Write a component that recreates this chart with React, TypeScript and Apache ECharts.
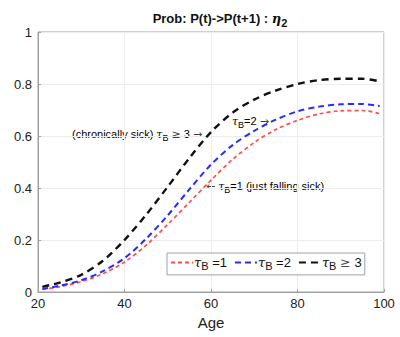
import React, { useEffect, useRef } from "react";
import * as echarts from "echarts";

const ages = [21, 25, 30, 35, 40, 45, 50, 55, 60, 65, 70, 75, 80, 85, 90, 95, 99];
const tau1 = [0.01, 0.02, 0.04, 0.07, 0.115, 0.18, 0.26, 0.345, 0.43, 0.51, 0.575, 0.625, 0.66, 0.685, 0.697, 0.698, 0.686];
const tau2 = [0.012, 0.024, 0.045, 0.08, 0.13, 0.205, 0.295, 0.395, 0.49, 0.565, 0.62, 0.663, 0.695, 0.713, 0.722, 0.723, 0.715];
const tau3 = [0.02, 0.036, 0.066, 0.12, 0.2, 0.297, 0.405, 0.515, 0.615, 0.69, 0.74, 0.775, 0.8, 0.815, 0.82, 0.82, 0.81];
const yTicks = [0, 0.2, 0.4, 0.6, 0.8, 1];

const FONT = "'Liberation Sans', Arial, Helvetica, sans-serif";

const tauRich = (size: number, color: string) => ({
  t: { fontFamily: "DejaVu Serif, serif", fontStyle: "italic", fontSize: size, color },
  s: { fontSize: size - 2, color, padding: [size * 0.6, 0, 0, 0], fontFamily: FONT },
  n: { fontSize: size, color, fontFamily: FONT },
  a: { fontSize: size, color, fontFamily: "'DejaVu Sans', sans-serif", opacity: 0.75 },
});

export default function App() {
  const ref = useRef<HTMLDivElement>(null);
  useEffect(() => {
    document.body.style.margin = "0";
    const chart = echarts.init(ref.current!, null, { renderer: "svg" });
    const mk = (arr: number[]) => ages.map((a, i) => [a, arr[i]]);
    chart.setOption({
      animation: false,
      backgroundColor: "#ffffff",
      title: {
        text: "{b|Prob: P(t)->P(t+1) : }{e|η}{s|2}",
        left: 215,
        top: 4,
        textAlign: "center",
        textStyle: {
          rich: {
            b: { fontSize: 13, fontWeight: "bold", fontFamily: FONT, color: "#111" },
            e: { fontSize: 13, fontStyle: "italic", fontFamily: "DejaVu Serif, serif", color: "#111" },
            s: { fontSize: 11, fontWeight: "bold", fontFamily: FONT, color: "#111", padding: [8, 0, 0, 0] },
          },
        },
      },
      grid: {
        left: 38,
        right: 16,
        top: 32,
        bottom: 45,
        show: true,
        borderColor: "#a0a0a0",
        borderWidth: 1,
      },
      legend: {
        left: 167,
        top: 253,
        orient: "horizontal",
        backgroundColor: "#ffffff",
        borderColor: "#a0a0a0",
        borderWidth: 1,
        borderRadius: 0,
        padding: [3, 3, 3, 3],
        itemWidth: 22,
        itemHeight: 10,
        itemGap: 7,
        data: ["t1", "t2", "t3"],
        itemStyle: { opacity: 0 },
        formatter: (name: string) => {
          if (name === "t1") return "{t|τ}{s|B}{n| =1}";
          if (name === "t2") return "{t|τ}{s|B}{n| =2}";
          return "{t|τ}{s|B}{n| }{a|≥}{n| 3}";
        },
        textStyle: { rich: tauRich(13, "#111"), padding: [0, 0, 0, -4] },
      },
      xAxis: {
        type: "value",
        min: 20,
        max: 100,
        interval: 20,
        name: "Age",
        nameLocation: "middle",
        nameGap: 22,
        nameTextStyle: { fontSize: 15, fontFamily: FONT, color: "#222" },
        axisLine: { show: true, lineStyle: { color: "#a0a0a0" } },
        axisTick: { show: true, inside: true, length: 3, lineStyle: { color: "#a0a0a0" } },
        axisLabel: { fontSize: 13, fontFamily: FONT, color: "#222", margin: 5 },
        splitLine: { show: true, lineStyle: { color: "#ececec" } },
      },
      yAxis: {
        type: "value",
        min: 0,
        max: 1,
        interval: 0.2,
        axisLine: { show: true, lineStyle: { color: "#a0a0a0" } },
        axisTick: { show: true, inside: true, length: 3, lineStyle: { color: "#a0a0a0" } },
        axisLabel: {
          fontSize: 13,
          fontFamily: FONT,
          color: "#222",
          margin: 6,
          formatter: (v: number) => (yTicks.indexOf(Math.round(v * 10) / 10) >= 0 ? String(Math.round(v * 10) / 10) : ""),
        },
        splitLine: { show: true, lineStyle: { color: "#ececec" } },
      },
      series: [
        {
          name: "t1",
          type: "line",
          data: mk(tau1),
          smooth: 0.3,
          showSymbol: false,
          symbol: "none",
          itemStyle: { color: "#ff4d4d" },
          lineStyle: { color: "#ff4d4d", width: 1.7, type: [4, 3] },
          z: 3,
        },
        {
          name: "t2",
          type: "line",
          data: mk(tau2),
          smooth: 0.3,
          showSymbol: false,
          symbol: "none",
          itemStyle: { color: "#2a2aff" },
          lineStyle: { color: "#2a2aff", width: 2, type: [6, 4] },
          z: 4,
        },
        {
          name: "t3",
          type: "line",
          data: mk(tau3),
          smooth: 0.3,
          showSymbol: false,
          symbol: "none",
          itemStyle: { color: "#111111" },
          lineStyle: { color: "#111111", width: 2.4, type: [7, 5] },
          z: 5,
        },
      ],
      graphic: [
        {
          type: "text",
          left: 72,
          top: 129,
          style: {
            text: "{n|(chronically sick) }{t|τ}{s|B}{n| }{a|≥}{n| 3 }{a|→}",
            rich: tauRich(11, "#111"),
          },
        },
        {
          type: "text",
          left: 232,
          top: 116,
          style: {
            text: "{t|τ}{s|B}{n|=2 }{a|→}",
            rich: tauRich(11, "#2a2aff"),
          },
        },
        {
          type: "text",
          left: 206,
          top: 181,
          style: {
            text: "{a|←}{n| }{t|τ}{s|B}{n|=1 (just falling sick)}",
            rich: tauRich(11, "#ff3333"),
          },
        },
      ],
    });
    return () => chart.dispose();
  }, []);
  return <div ref={ref} style={{ width: 400, height: 337 }} />;
}
